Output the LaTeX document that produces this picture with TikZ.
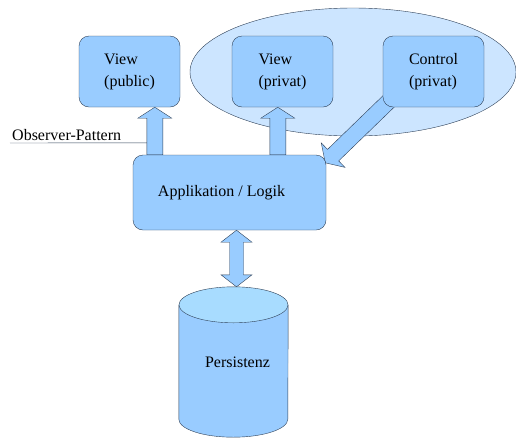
\documentclass[tikz,border=0pt]{standalone}
\usepackage{fontspec}
\setmainfont{Liberation Serif}
\usetikzlibrary{calc,backgrounds}

\definecolor{boxblue}{HTML}{99CCFF}
\definecolor{grpblue}{HTML}{CCE5FF}
\definecolor{topblue}{HTML}{A8DCFF}
\definecolor{rim}{HTML}{2E4057}

% fat arrow from #1 to #2
\newcommand{\fatarrow}[2]{%
  \coordinate (fa-n) at ($(#2)!11pt!(#1)$);
  \draw[arrowbody]
    ($(#1)!8pt!90:(#2)$) -- ($(fa-n)!8pt!-90:(#1)$) -- ($(fa-n)!17pt!-90:(#1)$) -- (#2)
    -- ($(fa-n)!17pt!90:(#1)$) -- ($(fa-n)!8pt!90:(#1)$) -- ($(#1)!8pt!-90:(#2)$) -- cycle;
}
% fat arrow with two heads
\newcommand{\dblarrow}[2]{%
  \coordinate (fa-a) at ($(#1)!12pt!(#2)$);
  \coordinate (fa-b) at ($(#2)!12pt!(#1)$);
  \draw[arrowbody]
    (#1) -- ($(fa-a)!15.5pt!90:(#2)$) -- ($(fa-a)!7pt!90:(#2)$) -- ($(fa-b)!7pt!-90:(#1)$)
    -- ($(fa-b)!15.5pt!-90:(#1)$) -- (#2) -- ($(fa-b)!15.5pt!90:(#1)$) -- ($(fa-b)!7pt!90:(#1)$)
    -- ($(fa-a)!7pt!-90:(#2)$) -- ($(fa-a)!15.5pt!-90:(#2)$) -- cycle;
}

\begin{document}
\begin{tikzpicture}[x=1pt,y=1pt,
    every node/.style={font=\fontsize{16}{22}\selectfont},
    comp/.style={draw=rim,fill=boxblue,rounded corners=10pt,inner sep=0pt,
      minimum width=101pt,minimum height=71pt,align=left},
    arrowbody/.style={draw=rim,fill=boxblue,line join=miter,thin}]
  \useasboundingbox (0,0) rectangle (516,-437);

  \node[comp] (pub)  at (129.5,-71.5) {View\\(public)};
  \node[comp] (priv) at (282.5,-71.5) {View\\(privat)};
  \node[comp] (ctrl) at (433.5,-71.5) {Control\\(privat)};
  \node[comp,minimum width=193pt,minimum height=75pt,
    label={[xshift=-8pt]center:Applikation / Logik}] (app) at (229.5,-192.5) {};
  \node (db) at (233.5,-362) [minimum width=109pt,minimum height=150pt,inner sep=0pt] {};

  \begin{pgfonlayer}{background}
    % private part
    \draw[rim,fill=grpblue,thin] (353,-72) ellipse[x radius=163, y radius=64];
    % arrows
    \coordinate (o1) at ($(app.north west)+(22,0)$);
    \coordinate (o2) at ($(app.north west)+(145,0)$);
    \fatarrow{o1}{o1 |- pub.south}
    \fatarrow{o2}{o2 |- priv.south}
    \coordinate (c1) at (389,-101);
    \coordinate (c2) at ($(app.north east)+(-1,-8)$);
    \fatarrow{c1}{c2}
    \coordinate (d1) at ($(app.south)+(7,0)$);
    \dblarrow{d1}{d1 |- db.north}
  \end{pgfonlayer}

  % database
  \draw[rim,fill=boxblue,thin] ($(db.north west)+(0,-18)$) -- ($(db.south west)+(0,18)$)
    arc[start angle=180,end angle=360,x radius=54.5pt,y radius=18pt]
    -- ($(db.north east)+(0,-18)$);
  \draw[rim,fill=topblue,thin] ($(db.north)+(0,-18)$) ellipse[x radius=54.5, y radius=18];
  \node at ($(db)+(4,0)$) {Persistenz};

  % label
  \node[anchor=base west,inner sep=0pt] (obs) at (12,-140) {Observer-Pattern};
  \draw[rim,thin] ($(obs.base west)+(-2,-3)$) -- ($(o1)+(-8,12)$);
\end{tikzpicture}
\end{document}
